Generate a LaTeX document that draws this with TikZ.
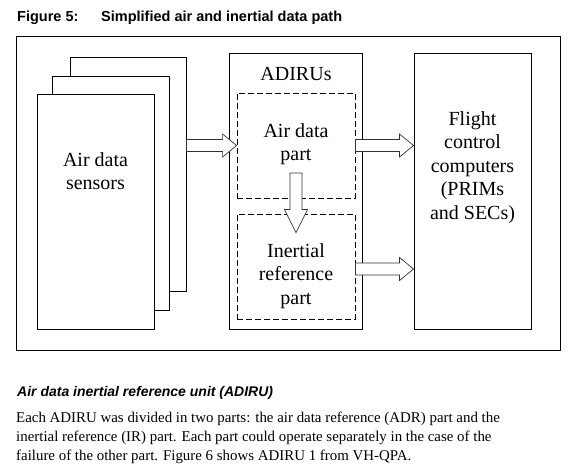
\documentclass[tikz,border=0pt]{standalone}
\usepackage{fontspec}
\setmainfont{Liberation Serif}
\newfontfamily\arialfont{Liberation Sans}
\usetikzlibrary{calc}

% outlined block arrow from #2 to #3, #1 = head length
\newcommand{\blockarrow}[3][14pt]{%
  \coordinate (bahead) at ($(#3)!#1!(#2)$);
  \draw[blockline] ($(#2)!6pt!90:(#3)$) -- ($(bahead)!6pt!90:(#3)$)
    -- ($(bahead)!11.5pt!90:(#3)$) -- (#3) -- ($(bahead)!11.5pt!-90:(#3)$)
    -- ($(bahead)!6pt!-90:(#3)$) -- ($(#2)!6pt!-90:(#3)$) -- cycle;}

\begin{document}
\begin{tikzpicture}[x=1pt,y=-1pt,
    box/.style={draw, line width=.9pt, fill=white, inner sep=0pt},
    partbox/.style={draw, line width=.8pt, dash pattern=on 6pt off 3pt, inner sep=0pt},
    blockline/.style={draw=black!80, fill=white, line width=.7pt, line join=miter},
    lbl/.style={font=\fontsize{20}{23.5}\selectfont, align=center, inner sep=0pt},
    head/.style={anchor=base west, inner sep=0pt, font=\arialfont\bfseries\fontsize{14.5}{17}\selectfont},
    body/.style={anchor=base west, inner sep=0pt, font=\fontsize{14.9}{19}\selectfont}]
    \useasboundingbox (0,0) rectangle (568,468);

    \node[head] (fignum) at (17,21.5) {Figure 5:};
    \node[head] (figtitle) at (101,21.5) {Simplified air and inertial data path};

    \draw[line width=.9pt] (16,36) rectangle (560,350);

    % sensors
    \node[box, minimum width=116pt, minimum height=234pt] (back) at (128,174) {};
    \node[box, minimum width=117pt, minimum height=234pt] (middle) at (110.5,193) {};
    \node[box, minimum width=117pt, minimum height=235pt] (front) at (95.5,211.5) {};
    \node[lbl] (sensors) at (95.5,171) {Air data\\sensors};

    % ADIRUs
    \node[box, minimum width=133pt, minimum height=276pt] (adiru) at (295.5,191) {};
    \node[lbl, anchor=base] (adirutext) at (296,80.5) {ADIRUs};
    \node[partbox, minimum width=118pt, minimum height=105pt] (airpart) at (296,145.5) {};
    \node[partbox, minimum width=118pt, minimum height=105pt] (irpart) at (296,266.5) {};
    \node[lbl] (airtext) at (296,144) {Air data\\part};
    \node[lbl] (irtext) at (296,276) {Inertial\\reference\\part};

    % flight control computers
    \node[box, minimum width=117pt, minimum height=276pt] (fcc) at (472.5,191) {};
    \node[lbl] (fcctext) at (472.5,167.5) {Flight\\control\\computers\\(PRIMs\\and SECs)};

    \coordinate (s1) at (back.east |- airpart.west);
    \coordinate (f1) at (fcc.west |- airpart.east);
    \coordinate (i1) at ([yshift=-2.5pt]irpart.east);
    \coordinate (f2) at (fcc.west |- i1);
    \coordinate (d1) at ([yshift=-27.5pt]airpart.center);
    \coordinate (d2) at ([yshift=-19pt]irpart.north);
    \blockarrow{s1}{airpart.west}
    \blockarrow{airpart.east}{f1}
    \blockarrow{i1}{f2}
    \blockarrow[23pt]{d1}{d2}

    \node[head, font=\arialfont\bfseries\itshape\fontsize{14}{17}\selectfont] (unit) at (17,396) {Air data inertial reference unit (ADIRU)};
    \node[body] (line1) at (16,422) {Each ADIRU was divided in two parts: the air data reference (ADR) part and the};
    \node[body] (line2) at (16,441) {inertial reference (IR) part. Each part could operate separately in the case of the};
    \node[body] (line3) at (16,460) {failure of the other part. Figure 6 shows ADIRU 1 from VH-QPA.};
\end{tikzpicture}
\end{document}
